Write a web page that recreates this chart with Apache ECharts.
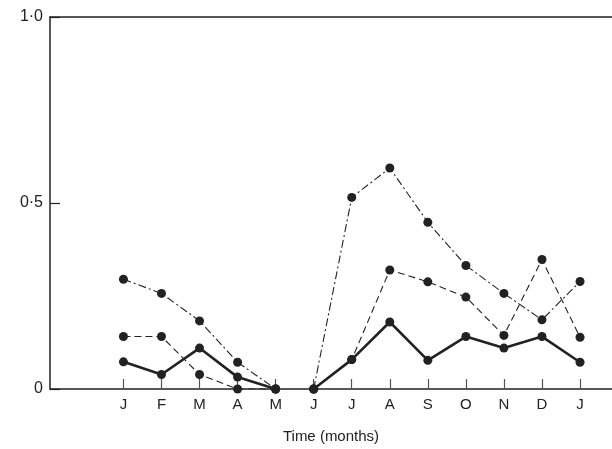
<!DOCTYPE html>
<html>
<head>
<meta charset="utf-8">
<script src="https://cdn.jsdelivr.net/npm/echarts@6/dist/echarts.min.js"></script>
<style>
  html, body { margin: 0; padding: 0; background: #fff; }
  #chart { width: 612px; height: 449px; }
</style>
</head>
<body>
<div id="chart"></div>
<script>
// month initials, Jan .. next Jan
const months = ['J', 'F', 'M', 'A', 'M', 'J', 'J', 'A', 'S', 'O', 'N', 'D', 'J'];
const yTickValues = [0, 0.5, 1];
const yTickLabels = ['0', '0·5', '1·0'];
// the record breaks between May and June
const breakAfter = 4;

const dashDotValues = [0.295, 0.257, 0.183, 0.072, 0, 0, 0.515, 0.594, 0.448, 0.332, 0.257, 0.186, 0.289];
const dashedValues  = [0.141, 0.141, 0.039, 0, 0, 0, 0.079, 0.32, 0.288, 0.247, 0.144, 0.348, 0.139];
const solidValues   = [0.073, 0.039, 0.11, 0.032, 0, 0, 0.079, 0.18, 0.077, 0.141, 0.11, 0.141, 0.072];

const ink = '#222';
const font = 'Liberation Sans';

function toPoints(values) {
    const pts = [];
    values.forEach((v, i) => {
        pts.push([i, v]);
        if (i === breakAfter) pts.push([i + 0.5, '-']);
    });
    return pts;
}

function makeSeries(name, values, lineStyle) {
    return {
        name: name,
        type: 'line',
        data: toPoints(values),
        symbol: 'circle',
        symbolSize: 9,
        itemStyle: {color: ink},
        lineStyle: Object.assign({color: ink}, lineStyle),
        connectNulls: false,
        animation: false
    };
}

const tickIdx = months.map((m, i) => i);

const chart = echarts.init(document.getElementById('chart'), null, {renderer: 'canvas'});
chart.setOption({
    animation: false,
    grid: {left: 50, right: 0, top: 17, bottom: 56},
    xAxis: [
        {
            type: 'value',
            min: -1.93,
            max: 12.84,
            name: 'Time (months)',
            nameLocation: 'middle',
            nameGap: 40,
            nameTextStyle: {color: ink, fontFamily: font, fontSize: 15},
            axisLine: {show: true, onZero: false, lineStyle: {color: ink, width: 1.5}},
            axisTick: {show: true, inside: true, length: 10, customValues: tickIdx, lineStyle: {color: '#555', width: 1.2}},
            axisLabel: {
                customValues: tickIdx,
                formatter: (v) => months[Math.round(v)],
                color: ink, fontFamily: font, fontSize: 15, margin: 8
            },
            splitLine: {show: false}
        },
        {
            type: 'value',
            position: 'top',
            min: -1.93,
            max: 12.84,
            axisLine: {show: true, onZero: false, lineStyle: {color: ink, width: 1.5}},
            axisTick: {show: false},
            axisLabel: {show: false},
            splitLine: {show: false}
        }
    ],
    yAxis: {
        type: 'value',
        min: 0,
        max: 1,
        interval: 0.5,
        axisLine: {show: true, onZero: false, lineStyle: {color: ink, width: 1.5}},
        axisTick: {show: true, inside: true, length: 10, lineStyle: {color: ink, width: 1.2}},
        axisLabel: {
            formatter: (v) => yTickLabels[yTickValues.indexOf(v)],
            color: ink, fontFamily: font, fontSize: 16, margin: 7
        },
        splitLine: {show: false}
    },
    series: [
        makeSeries('dash-dot', dashDotValues, {width: 1.1, type: [8, 3, 2, 3]}),
        makeSeries('dashed', dashedValues, {width: 1.1, type: [7, 4]}),
        makeSeries('solid', solidValues, {width: 2.6, type: 'solid'})
    ]
});
</script>
</body>
</html>
